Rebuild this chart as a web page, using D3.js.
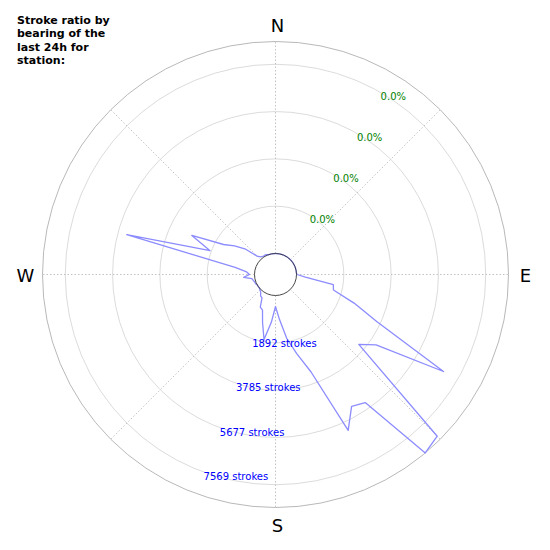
<!DOCTYPE html>
<html>
<head>
<meta charset="utf-8">
<script src="https://cdn.jsdelivr.net/npm/d3@7"></script>
<style>
  html, body { margin: 0; padding: 0; background: #fff; }
  svg { display: block; font-family: "DejaVu Sans", sans-serif; }
</style>
</head>
<body>
<div id="chart"></div>
<script>
// bearings in 5 degree steps, strokes per bearing
var bearings = d3.range(0, 360, 5);
var strokes = [
    0, 0, 0, 0, 0, 0, 0, 0, 0, 0, 0, 0, 0, 0, 0, 0, 0, 0,        // 0 - 85
    20, 360, 1508, 1560, 2504, 3640, 6920, 4072, 3508, 8308,     // 90 - 135
    8480, 5416, 5248, 6040, 3300, 2440, 1760, 960,               // 140 - 175
    440, 1080, 1800, 1160, 680, 600, 240, 200, 80, 40,           // 180 - 225
    0, 0, 0, 40, 40, 80, 120, 440, 200, 320,                     // 230 - 275
    800, 5320, 1944, 2852, 1560, 1160, 760, 200, 80, 40,         // 280 - 325
    40, 40, 0, 0, 0, 0                                           // 330 - 355
];
var tickValues = [1892, 3785, 5677, 7569];
var compass = ["N", "E", "S", "W"];
var titleLines = ["Stroke ratio by", "bearing of the", "last 24h for", "station:"];

(function () {
    'use strict';

    var w = 550, h = 550;
    var cx = 275.5, cy = 274.5;
    var hole = 21, outer = 233;
    var rad = Math.PI / 180;

    var data = bearings.map(function (b, i) { return { b: b, v: strokes[i] }; });

    var r = d3.scaleLinear()
              .domain([0, d3.max(strokes)])
              .range([hole, outer]);

    var svg = d3.select("#chart")
                .append("svg")
                .attr("width", w)
                .attr("height", h);

    var g = svg.append("g")
               .attr("transform", "translate(" + cx + "," + cy + ")");

    function px(b, rr) { return rr * Math.sin(b * rad); }
    function py(b, rr) { return -rr * Math.cos(b * rad); }

    // grid circles
    g.selectAll("circle.grid")
     .data(tickValues)
     .enter()
     .append("circle")
     .attr("class", "grid")
     .attr("r", function (d) { return r(d); })
     .attr("fill", "none")
     .attr("stroke", "#d2d2d2")
     .attr("stroke-width", 0.8);

    // outer frame
    g.append("circle")
     .attr("r", r.range()[1])
     .attr("fill", "none")
     .attr("stroke", "#b0b0b0")
     .attr("stroke-width", 0.9);

    // spokes
    g.selectAll("line.spoke")
     .data(d3.range(0, 360, 45))
     .enter()
     .append("line")
     .attr("class", "spoke")
     .attr("x1", function (d) { return px(d, hole); })
     .attr("y1", function (d) { return py(d, hole); })
     .attr("x2", function (d) { return px(d, outer); })
     .attr("y2", function (d) { return py(d, outer); })
     .attr("stroke", "#b4b4b4")
     .attr("stroke-width", 0.8)
     .attr("stroke-dasharray", "1.5,2");

    // data polygon
    var line = d3.lineRadial()
                 .angle(function (d) { return d.b * rad; })
                 .radius(function (d) { return r(d.v); })
                 .curve(d3.curveLinearClosed);

    g.append("path")
     .datum(data)
     .attr("d", line)
     .attr("fill", "none")
     .attr("stroke", "#8c8cff")
     .attr("stroke-width", 1.3)
     .attr("stroke-linejoin", "round");

    // hole
    g.append("circle")
     .attr("r", hole)
     .attr("fill", "none")
     .attr("stroke", "#333")
     .attr("stroke-width", 0.9);

    // percent labels
    g.selectAll("text.pct")
     .data(tickValues)
     .enter()
     .append("text")
     .attr("class", "pct")
     .attr("x", function (d) { return px(30, r(d)); })
     .attr("y", function (d) { return py(30, r(d)); })
     .attr("dy", "0.8em")
     .attr("font-size", 10)
     .attr("fill", "#007f00")
     .text("0.0%");

    // stroke labels
    g.selectAll("text.cnt")
     .data(tickValues)
     .enter()
     .append("text")
     .attr("class", "cnt")
     .attr("x", function (d) { return px(200, r(d)); })
     .attr("y", function (d) { return py(200, r(d)); })
     .attr("dy", "0.8em")
     .attr("font-size", 10)
     .attr("fill", "#0000ff")
     .text(function (d) { return d + " strokes"; });

    // compass labels
    g.selectAll("text.dir")
     .data(compass)
     .enter()
     .append("text")
     .attr("class", "dir")
     .attr("x", function (d, i) { return px(i * 90, 250) + (i % 2 === 0 ? 2 : 0); })
     .attr("y", function (d, i) { return py(i * 90, 250) + 1.5; })
     .attr("dy", "0.36em")
     .attr("text-anchor", "middle")
     .attr("font-size", 18)
     .attr("fill", "#000")
     .text(function (d) { return d; });

    // title
    svg.append("text")
       .attr("x", 17)
       .attr("y", 24)
       .attr("font-size", 11)
       .attr("font-weight", "bold")
       .attr("fill", "#000")
       .selectAll("tspan")
       .data(titleLines)
       .enter()
       .append("tspan")
       .attr("x", 17)
       .attr("dy", function (d, i) { return i === 0 ? 0 : 13.3; })
       .text(function (d) { return d; });
})();
</script>
</body>
</html>
